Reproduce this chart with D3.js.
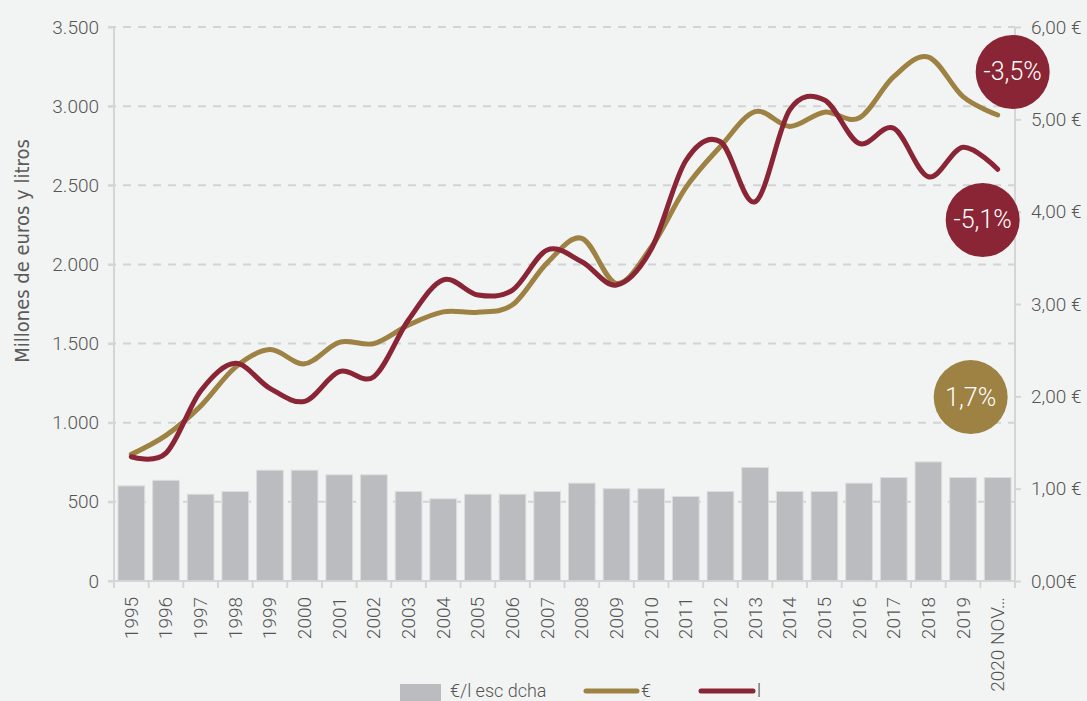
<!DOCTYPE html>
<html>
<head>
<meta charset="utf-8">
<script src="https://cdn.jsdelivr.net/npm/d3@7"></script>
<style>
  html, body { margin: 0; padding: 0; background: #f2f4f3; }
  svg { display: block; }
  text { font-family: "Roboto", "Liberation Sans Narrow", sans-serif; font-weight: 300; fill: #555; }
  .narrow { font-family: "Liberation Sans Narrow", "DejaVu Sans Condensed", sans-serif; font-weight: 400; }
</style>
</head>
<body>
<svg id="chart" width="1087" height="701"></svg>
<script>
// Categories
const years = ["1995","1996","1997","1998","1999","2000","2001","2002","2003","2004","2005","2006","2007",
  "2008","2009","2010","2011","2012","2013","2014","2015","2016","2017","2018","2019","2020 NOV…"];

// Millones de euros
const euros = [800, 920, 1105, 1350, 1462, 1372, 1508, 1500, 1617, 1700, 1698, 1745, 2010,
  2165, 1880, 2108, 2485, 2745, 2965, 2872, 2962, 2925, 3186, 3310, 3060, 2944];

// Millones de litros
const litros = [785, 808, 1200, 1375, 1217, 1135, 1323, 1291, 1650, 1902, 1807, 1838, 2091,
  2017, 1870, 2095, 2655, 2775, 2396, 2976, 3039, 2765, 2860, 2554, 2740, 2601];

// Precio medio €/l (eje derecho)
const precio = [1.03, 1.09, 0.94, 0.97, 1.20, 1.20, 1.15, 1.15, 0.97, 0.89, 0.94, 0.94, 0.97,
  1.06, 1.00, 1.00, 0.915, 0.97, 1.23, 0.97, 0.97, 1.06, 1.12, 1.29, 1.12, 1.12];

// Axis tick values and labels
const leftTicks = [0, 500, 1000, 1500, 2000, 2500, 3000, 3500];
const leftTickLabels = ["0", "500", "1.000", "1.500", "2.000", "2.500", "3.000", "3.500"];
const rightTicks = [0, 1, 2, 3, 4, 5, 6];
const rightTickLabels = ["0,00€", "1,00 €", "2,00 €", "3,00 €", "4,00 €", "5,00 €", "6,00 €"];

// Variation callouts
const calloutText = ["-3,5%", "-5,1%", "1,7%"];
const calloutValue = [3216, 2281, 1162];

const colors = { euro: "#9d8244", litro: "#892535", bar: "#bbbcc0", grid: "#d2d3d4", axis: "#d4d5d6" };

const svg = d3.select("#chart");
const m = { left: 114, right: 1015, top: 27, bottom: 581 };

const x = d3.scaleBand().domain(years).range([m.left, m.right]).paddingInner(0.23).paddingOuter(0.115);
const xc = d3.scaleBand().domain(years).range([m.left, m.right]);
const yL = d3.scaleLinear().domain([0, 3500]).range([m.bottom, m.top]);
const yR = d3.scaleLinear().domain([0, 6]).range([m.bottom, m.top]);

// Dashed gridlines
svg.append("g").selectAll("line").data(leftTicks.slice(1)).join("line")
  .attr("x1", m.left - 6).attr("x2", m.right)
  .attr("y1", d => yL(d)).attr("y2", d => yL(d))
  .attr("stroke", colors.grid).attr("stroke-width", 2).attr("stroke-dasharray", "8,7");

// Bars (right scale)
svg.append("g").selectAll("rect").data(precio).join("rect")
  .attr("x", (d, i) => x(years[i]))
  .attr("width", x.bandwidth())
  .attr("y", d => yR(d))
  .attr("height", d => yR(0) - yR(d))
  .attr("fill", colors.bar)
  .attr("stroke", "#dcdddf").attr("stroke-width", 1);

// Left axis
const leftAxis = d3.axisLeft(yL).tickValues(leftTicks).tickSize(6).tickPadding(9)
  .tickFormat((d, i) => leftTickLabels[i]);
const gL = svg.append("g").attr("transform", `translate(${m.left},0)`).call(leftAxis);
gL.select(".domain").remove();
gL.append("line").attr("x1", 0).attr("x2", 0).attr("y1", m.top).attr("y2", m.bottom + 7)
  .attr("stroke", colors.axis).attr("stroke-width", 2);
gL.selectAll(".tick line").attr("stroke", colors.axis).attr("stroke-width", 2);
gL.selectAll(".tick text").style("font-size", "19px").style("font-family", null).attr("fill", "#555");

// Right axis
const rightAxis = d3.axisRight(yR).tickValues(rightTicks).tickSize(6).tickPadding(10)
  .tickFormat((d, i) => rightTickLabels[i]);
const gR = svg.append("g").attr("transform", `translate(${m.right},0)`).call(rightAxis);
gR.select(".domain").remove();
gR.append("line").attr("x1", 0).attr("x2", 0).attr("y1", m.top).attr("y2", m.bottom + 7)
  .attr("stroke", colors.axis).attr("stroke-width", 2);
gR.selectAll(".tick line").attr("stroke", colors.axis).attr("stroke-width", 2);
gR.selectAll(".tick text").style("font-size", "19px").style("font-family", null).attr("fill", "#555");

// Bottom axis
const bottomAxis = d3.axisBottom(xc).tickSize(0).tickPadding(0);
const gB = svg.append("g").attr("transform", `translate(0,${m.bottom})`).call(bottomAxis);
gB.select(".domain").remove();
gB.append("line").attr("x1", m.left - 6).attr("x2", m.right).attr("y1", 0).attr("y2", 0)
  .attr("stroke", colors.axis).attr("stroke-width", 2);
gB.selectAll(".sep").data(years.concat(["end"])).join("line").attr("class", "sep")
  .attr("x1", (d, i) => m.left + i * xc.step()).attr("x2", (d, i) => m.left + i * xc.step())
  .attr("y1", 0).attr("y2", 7).attr("stroke", colors.axis).attr("stroke-width", 2);
gB.selectAll(".tick text")
  .style("font-size", "19px").style("font-family", null).attr("fill", "#555")
  .attr("text-anchor", "end").attr("dy", null).attr("y", 0)
  .attr("dominant-baseline", "central")
  .attr("transform", "translate(0,16) rotate(-90)");

// Y axis title
svg.append("text").attr("class", "narrow")
  .attr("transform", "translate(22,251) rotate(-90)")
  .attr("text-anchor", "middle").attr("dominant-baseline", "central")
  .style("font-size", "20px").style("fill", "#5a5a5a").text("Millones de euros y litros");

// Lines
const line = d3.line().curve(d3.curveCardinal.tension(0))
  .x((d, i) => xc(years[i]) + xc.bandwidth() / 2)
  .y(d => yL(d));
svg.append("path").datum(euros).attr("d", line).attr("fill", "none")
  .attr("stroke", colors.euro).attr("stroke-width", 5).attr("stroke-linecap", "round").attr("stroke-linejoin", "round");
svg.append("path").datum(litros).attr("d", line).attr("fill", "none")
  .attr("stroke", colors.litro).attr("stroke-width", 5).attr("stroke-linecap", "round").attr("stroke-linejoin", "round");

// Callout bubbles
const lastX = xc(years[years.length - 1]) + xc.bandwidth() / 2;
const calloutDx = [15, -15, -27];
const calloutFill = [colors.litro, colors.litro, colors.euro];
const gc = svg.append("g").selectAll("g").data(calloutText).join("g")
  .attr("transform", (d, i) => `translate(${lastX + calloutDx[i]},${yL(calloutValue[i])})`);
gc.append("circle").attr("r", 37).attr("fill", (d, i) => calloutFill[i]);
gc.append("text").attr("text-anchor", "middle").attr("dominant-baseline", "central")
  .style("font-size", "25px").style("fill", "#fff").text(d => d);

// Legend
const lg = svg.append("g");
lg.append("rect").attr("x", 400).attr("y", 684).attr("width", 41).attr("height", 17).attr("fill", colors.bar);
lg.append("text").attr("x", 450).attr("y", 697).style("font-size", "18px").text("€/l esc dcha");
lg.append("line").attr("x1", 586).attr("x2", 637).attr("y1", 691).attr("y2", 691)
  .attr("stroke", colors.euro).attr("stroke-width", 5).attr("stroke-linecap", "round");
lg.append("text").attr("x", 641).attr("y", 697).style("font-size", "18px").text("€");
lg.append("line").attr("x1", 701).attr("x2", 753).attr("y1", 691).attr("y2", 691)
  .attr("stroke", colors.litro).attr("stroke-width", 5).attr("stroke-linecap", "round");
lg.append("text").attr("x", 757).attr("y", 697).style("font-size", "18px").text("l");
</script>
</body>
</html>
